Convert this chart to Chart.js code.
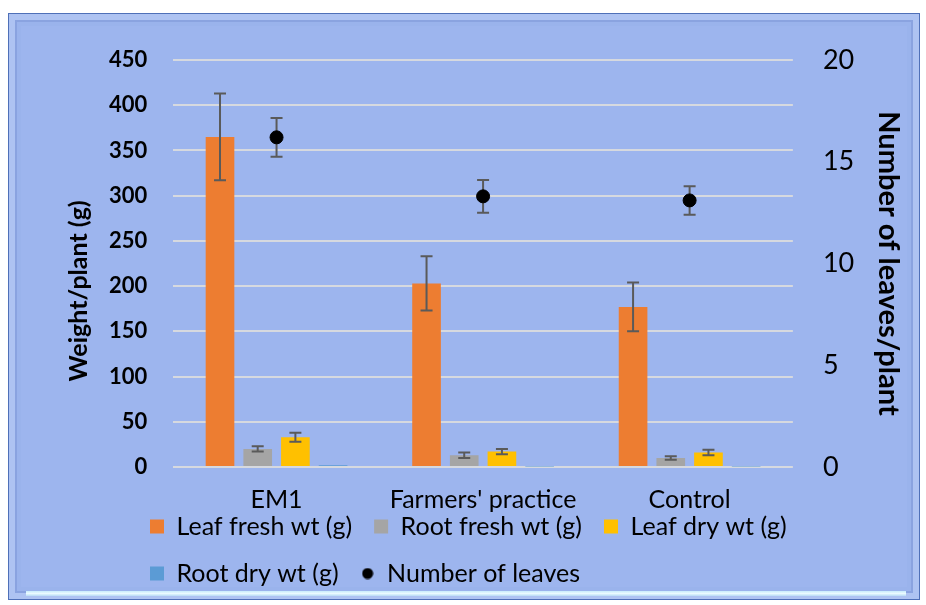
<!DOCTYPE html>
<html>
<head>
<meta charset="utf-8">
<script src="https://cdn.jsdelivr.net/npm/chart.js@4"></script>
<style>
  html, body { margin: 0; padding: 0; background: #ffffff; width: 926px; height: 605px; overflow: hidden; }
  #frame {
    position: absolute; left: 8px; top: 13px; width: 910px; height: 585px;
    background: #9db5ee;
    border: 1px solid #4f70b8;
    box-shadow: inset 0 0 0 6px #aec3f2, inset 0 0 0 8px #8aa3e0, inset 0 0 0 12px #9ab3ec;
  }
  #shine { position: absolute; left: 26px; top: 591px; width: 880px; height: 5px;
    background: linear-gradient(#c8ecfb, #eafaff, #b8dcf5); }
  #wrap { position: absolute; left: 0; top: 0; width: 926px; height: 605px; }
</style>
</head>
<body>
<div id="frame"></div>
<div id="shine"></div>
<div id="wrap"><canvas id="c" width="926" height="605"></canvas></div>
<script>
// ---- data ----
const categories = ['EM1', "Farmers' practice", 'Control'];
const leafFresh = [365, 203, 177];
const leafFreshErr = [48, 30, 27];
const rootFresh = [20, 13, 10];
const rootFreshErr = [3, 3, 2];
const leafDry = [33, 17, 16];
const leafDryErr = [5, 3, 3];
const rootDry = [2, 0.6, 0.5];
const rootDryErr = [0, 0, 0];
const leafCount = [16.2, 13.3, 13.1];
const leafCountErr = [0.95, 0.8, 0.7];
const leftTicks = [0, 50, 100, 150, 200, 250, 300, 350, 400, 450];
const rightTicks = [0, 5, 10, 15, 20];

const FONT = 'Lato, "Open Sans", sans-serif';
const errColor = '#5a5a5a';

const errorBars = {
  id: 'errorBars',
  _draw(chart, idx) {
    const ds = chart.data.datasets[idx];
    if (!ds.errors) return;
    const meta = chart.getDatasetMeta(idx);
    const ys = chart.scales[meta.yAxisID];
    const ctx = chart.ctx;
    ctx.save();
    ctx.strokeStyle = errColor;
    ctx.lineWidth = 2;
    meta.data.forEach((el, i) => {
      const e = ds.errors[i];
      if (!e) return;
      const v = ds.data[i];
      const x = el.x;
      const yt = ys.getPixelForValue(v + e);
      const yb = ys.getPixelForValue(v - e);
      const cap = 6;
      ctx.beginPath();
      ctx.moveTo(x, yt); ctx.lineTo(x, yb);
      ctx.moveTo(x - cap, yt); ctx.lineTo(x + cap, yt);
      ctx.moveTo(x - cap, yb); ctx.lineTo(x + cap, yb);
      ctx.stroke();
    });
    ctx.restore();
  },
  beforeDatasetDraw(chart, args) {
    if (chart.data.datasets[args.index].type === 'line') this._draw(chart, args.index);
  },
  afterDatasetDraw(chart, args) {
    if (chart.data.datasets[args.index].type !== 'line') this._draw(chart, args.index);
  }
};

const legendPlace = {
  id: 'legendPlace',
  afterLayout(chart) {
    const l = chart.legend;
    const h = l.height;
    l.left = 128; l.right = 900;
    l.top = 492; l.bottom = 492 + h;
  }
};

function dotIcon() {
  const c = document.createElement('canvas');
  c.width = 12; c.height = 12;
  const g = c.getContext('2d');
  g.fillStyle = '#000';
  g.beginPath(); g.arc(6, 6, 5.5, 0, Math.PI * 2); g.fill();
  return c;
}
const dot = dotIcon();

new Chart(document.getElementById('c'), {
  type: 'bar',
  data: {
    labels: categories,
    datasets: [
      { label: 'Leaf fresh wt (g)', data: leafFresh, errors: leafFreshErr, backgroundColor: '#ed7d31', yAxisID: 'y', pointStyle: 'rect' },
      { label: 'Root fresh wt (g)', data: rootFresh, errors: rootFreshErr, backgroundColor: '#a5a5a5', yAxisID: 'y', pointStyle: 'rect' },
      { label: 'Leaf dry wt (g)', data: leafDry, errors: leafDryErr, backgroundColor: '#ffc000', yAxisID: 'y', pointStyle: 'rect' },
      { label: 'Root dry wt (g)', data: rootDry, errors: rootDryErr, backgroundColor: '#5b9bd5', yAxisID: 'y', pointStyle: 'rect' },
      { type: 'line', label: 'Number of leaves', data: leafCount, errors: leafCountErr, yAxisID: 'y1',
        showLine: false, pointRadius: 6.5, pointHoverRadius: 6.5, backgroundColor: '#000', borderColor: '#000', pointStyle: 'circle' }
    ]
  },
  options: {
    responsive: false,
    animation: false,
    events: [],
    layout: { padding: { left: 64, right: 20, top: 60, bottom: -32 } },
    datasets: { bar: { categoryPercentage: 0.73, barPercentage: 0.76 } },
    scales: {
      x: {
        grid: { display: false, drawTicks: false },
        border: { display: false },
        ticks: { color: '#000', font: { family: FONT, size: 25 }, padding: 18 }
      },
      y: {
        position: 'left', min: 0, max: 450,
        afterBuildTicks: (s) => { s.ticks = leftTicks.map(v => ({ value: v })); },
        grid: { color: '#d6d9df', lineWidth: 2, drawTicks: false },
        border: { display: false },
        ticks: { color: '#000', font: { family: FONT, size: 22, weight: 'bold' }, padding: 26 },
        title: { display: true, text: 'Weight/plant (g)' + '\u00a0'.repeat(9), color: '#000', font: { family: FONT, size: 25, weight: 'bold' }, padding: { top: 0, bottom: -11 } }
      },
      y1: {
        position: 'right', min: 0, max: 20,
        afterBuildTicks: (s) => { s.ticks = rightTicks.map(v => ({ value: v })); },
        grid: { drawOnChartArea: false, drawTicks: false },
        border: { display: false },
        ticks: { color: '#000', font: { family: FONT, size: 27 }, padding: 30 },
        title: { display: true, text: 'Number of leaves/plant', color: '#000', font: { family: FONT, size: 29, weight: 'bold' }, padding: { top: 0, bottom: -13 } }
      }
    },
    plugins: {
      tooltip: { enabled: false },
      legend: {
        position: 'bottom', align: 'start',
        labels: {
          color: '#000', font: { family: FONT, size: 25 }, padding: 22,
          usePointStyle: true, boxWidth: 14, boxHeight: 14,
          generateLabels: (chart) => {
            const items = Chart.defaults.plugins.legend.labels.generateLabels(chart);
            items.forEach(it => { if (it.text === 'Number of leaves') it.pointStyle = dot; });
            return items;
          }
        }
      }
    }
  },
  plugins: [errorBars, legendPlace]
});
</script>
</body>
</html>
